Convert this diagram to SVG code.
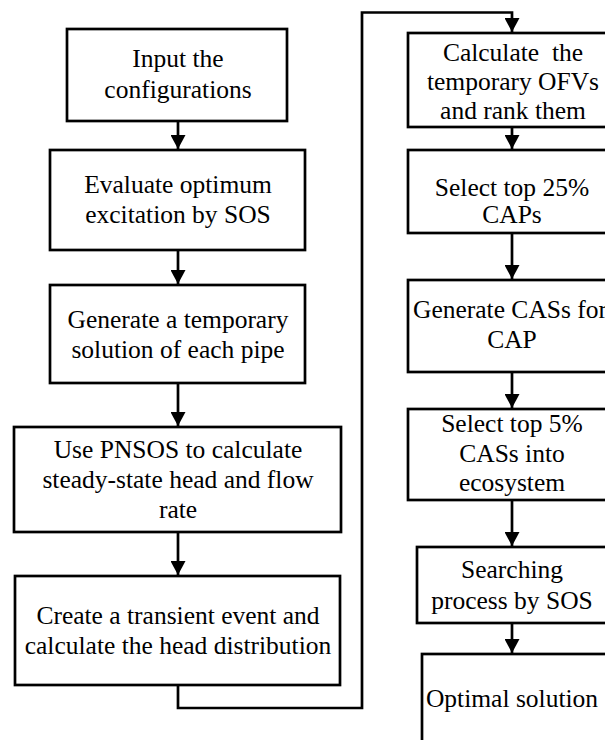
<svg xmlns="http://www.w3.org/2000/svg" width="605" height="740" viewBox="0 0 605 740">
<style>
.box{fill:#fff;stroke:#000;stroke-width:2.7}
.c{fill:none;stroke:#000;stroke-width:2.7}
</style>
<defs>
<marker id="ah" viewBox="0 0 15 16" refX="15" refY="8" markerWidth="16" markerHeight="15" markerUnits="userSpaceOnUse" orient="auto">
<path d="M0,0 L15,8 L0,16 Z" fill="#000"/>
</marker>
</defs>
<rect width="605" height="740" fill="#fff"/>
<g id="connectors">
<line class="c" x1="178" y1="121" x2="178" y2="149" marker-end="url(#ah)"/>
<line class="c" x1="178" y1="250" x2="178" y2="284" marker-end="url(#ah)"/>
<line class="c" x1="178" y1="383" x2="178" y2="426" marker-end="url(#ah)"/>
<line class="c" x1="178" y1="532" x2="178" y2="575" marker-end="url(#ah)"/>
<polyline class="c" points="178,685 178,708 362,708 362,12.5 512,12.5 512,32" marker-end="url(#ah)"/>
<line class="c" x1="512" y1="127" x2="512" y2="149" marker-end="url(#ah)"/>
<line class="c" x1="512" y1="233" x2="512" y2="279" marker-end="url(#ah)"/>
<line class="c" x1="512" y1="372" x2="512" y2="408" marker-end="url(#ah)"/>
<line class="c" x1="512" y1="500" x2="512" y2="546" marker-end="url(#ah)"/>
<line class="c" x1="512" y1="623" x2="512" y2="653" marker-end="url(#ah)"/>
</g>
<g id="nodes" font-size="25.5" text-anchor="middle" fill="#000">
<g id="n1"><rect class="box" x="67" y="29" width="220" height="92"/>
<text style="font-family:'Liberation Serif',serif !important" x="178" y="67">Input the</text><text style="font-family:'Liberation Serif',serif !important" x="178" y="98">configurations</text></g>
<g id="n2"><rect class="box" x="50" y="150" width="255" height="100"/>
<text style="font-family:'Liberation Serif',serif !important" x="178" y="193">Evaluate optimum</text><text style="font-family:'Liberation Serif',serif !important" x="178" y="223">excitation by SOS</text></g>
<g id="n3"><rect class="box" x="50" y="285" width="255" height="98"/>
<text style="font-family:'Liberation Serif',serif !important" x="178" y="328">Generate a temporary</text><text style="font-family:'Liberation Serif',serif !important" x="178" y="358">solution of each pipe</text></g>
<g id="n4"><rect class="box" x="14" y="427" width="327" height="105"/>
<text style="font-family:'Liberation Serif',serif !important" x="178" y="458">Use PNSOS to calculate</text><text style="font-family:'Liberation Serif',serif !important" x="178" y="488">steady-state head and flow</text><text style="font-family:'Liberation Serif',serif !important" x="178" y="518">rate</text></g>
<g id="n5"><rect class="box" x="15" y="576" width="325" height="109"/>
<text style="font-family:'Liberation Serif',serif !important" x="178" y="624">Create a transient event and</text><text style="font-family:'Liberation Serif',serif !important" x="178" y="654">calculate the head distribution</text></g>
<g id="r1"><rect class="box" x="408" y="33" width="210" height="94"/>
<text style="font-family:'Liberation Serif',serif !important" x="513" y="61">Calculate&#160; the</text><text style="font-family:'Liberation Serif',serif !important" x="513" y="90">temporary OFVs</text><text style="font-family:'Liberation Serif',serif !important" x="513" y="119">and rank them</text></g>
<g id="r2"><rect class="box" x="408" y="150" width="210" height="83"/>
<text style="font-family:'Liberation Serif',serif !important" x="512" y="196">Select top 25%</text><text style="font-family:'Liberation Serif',serif !important" x="512" y="223">CAPs</text></g>
<g id="r3"><rect class="box" x="408" y="280" width="210" height="92"/>
<text style="font-family:'Liberation Serif',serif !important" x="510" y="318">Generate CASs for</text><text style="font-family:'Liberation Serif',serif !important" x="512" y="348">CAP</text></g>
<g id="r4"><rect class="box" x="408" y="409" width="210" height="91"/>
<text style="font-family:'Liberation Serif',serif !important" x="512" y="432">Select top 5%</text><text style="font-family:'Liberation Serif',serif !important" x="512" y="462">CASs into</text><text style="font-family:'Liberation Serif',serif !important" x="512" y="491">ecosystem</text></g>
<g id="r5"><rect class="box" x="417" y="547" width="200" height="76"/>
<text style="font-family:'Liberation Serif',serif !important" x="512" y="578">Searching</text><text style="font-family:'Liberation Serif',serif !important" x="512" y="609">process by SOS</text></g>
<g id="r6"><rect class="box" x="422" y="654" width="196" height="100"/>
<text style="font-family:'Liberation Serif',serif !important" x="512" y="707">Optimal solution</text></g>
</g>
</svg>
